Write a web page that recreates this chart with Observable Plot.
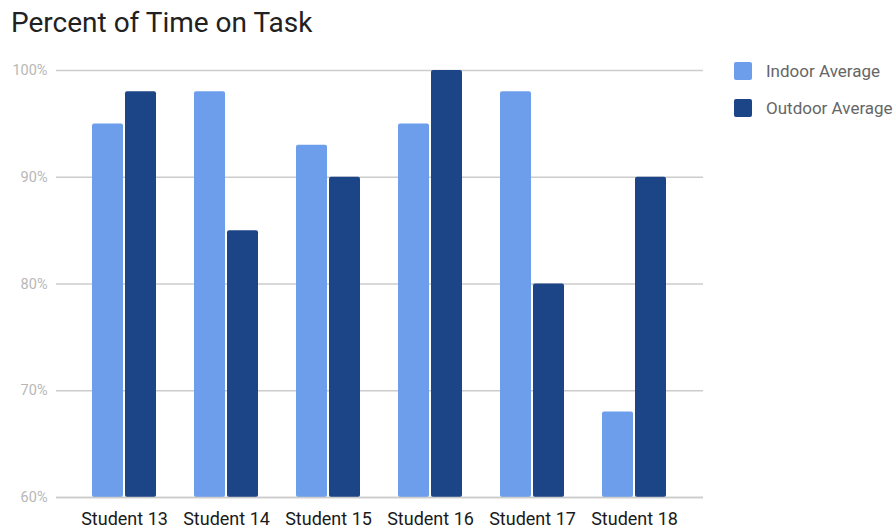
<!DOCTYPE html>
<html>
<head>
<meta charset="utf-8">
<script src="https://cdn.jsdelivr.net/npm/d3@7"></script>
<script src="https://cdn.jsdelivr.net/npm/@observablehq/plot@0.6"></script>
<style>
  html, body { margin: 0; padding: 0; background: #fff; }
  #wrap { position: relative; width: 895px; height: 531px; font-family: Roboto, "Noto Sans", sans-serif; }
  #title { position: absolute; left: 11px; top: 6px; font-size: 28px; color: #212121; white-space: nowrap; }
  #legend { position: absolute; left: 734px; top: 62px; }
  .item { display: flex; align-items: center; height: 18px; margin-bottom: 19px; }
  .sw { width: 18px; height: 18px; border-radius: 2px; margin-right: 14px; }
  .lab { font-size: 17px; color: #666; white-space: nowrap; }
  #chart { position: absolute; left: 0; top: 0; }
</style>
</head>
<body>
<div id="wrap">
  <div id="chart"></div>
  <div id="title">Percent of Time on Task</div>
  <div id="legend"></div>
</div>
<script>
// Students on the x axis
const students = ["Student 13", "Student 14", "Student 15", "Student 16", "Student 17", "Student 18"];
// Series names and colours
const seriesNames = ["Indoor Average", "Outdoor Average"];
const seriesColors = ["#6d9eeb", "#1c4587"];
// Percent of time on task, per student
const indoorAverage = [95, 98, 93, 95, 98, 68];
const outdoorAverage = [98, 85, 90, 100, 80, 90];
// Y axis ticks
const yTicks = [60, 70, 80, 90, 100];

// Each student's band holds two side-by-side bars (64px band, 31px bars, 2px gap)
const half = 33;

const chart = Plot.plot({
  width: 895,
  height: 531,
  marginTop: 70,
  marginBottom: 34,
  marginLeft: 56,
  marginRight: 192,
  style: {fontFamily: "Roboto, 'Noto Sans', sans-serif", background: "transparent"},
  x: {domain: students, paddingInner: 0.37, paddingOuter: 0.35, label: null},
  y: {domain: [60, 100], ticks: yTicks, label: null},
  marks: [
    Plot.ruleY(yTicks, {stroke: "#cccccc", strokeWidth: 1.3}),
    Plot.barY(students, {
      x: students,
      y1: 60,
      y2: indoorAverage,
      fill: seriesColors[0],
      insetRight: half,
      rx: 2
    }),
    Plot.barY(students, {
      x: students,
      y1: 60,
      y2: outdoorAverage,
      fill: seriesColors[1],
      insetLeft: half,
      rx: 2
    }),
    Plot.ruleY([60], {stroke: "#cccccc", strokeWidth: 1.5}),
    Plot.axisY({
      ticks: yTicks,
      tickSize: 0,
      tickPadding: 9,
      tickFormat: d => d + "%",
      fontSize: 14.5,
      fill: "#b7b7b7",
      label: null
    }),
    Plot.axisX({
      anchor: "bottom",
      tickSize: 0,
      tickPadding: 15,
      fontSize: 18,
      fill: "#1a1a1a",
      label: null
    })
  ]
});
document.getElementById("chart").appendChild(chart);

const legend = document.getElementById("legend");
seriesNames.forEach((name, i) => {
  const item = document.createElement("div");
  item.className = "item";
  const sw = document.createElement("div");
  sw.className = "sw";
  sw.style.background = seriesColors[i];
  const lab = document.createElement("div");
  lab.className = "lab";
  lab.textContent = name;
  item.appendChild(sw);
  item.appendChild(lab);
  legend.appendChild(item);
});
</script>
</body>
</html>
